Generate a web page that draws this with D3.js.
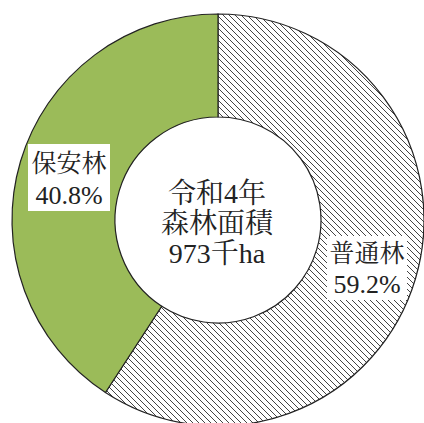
<!DOCTYPE html>
<html><head><meta charset="utf-8">
<script src="https://cdn.jsdelivr.net/npm/d3@7"></script>
<style>
body{margin:0;background:#fff}
svg{display:block}
svg text{font-family:"Liberation Serif","Noto Serif CJK JP","Times New Roman",serif !important;}
</style>
</head><body>
<script>
const categories = ["普通林", "保安林"];
const values = [59.2, 40.8];
const labelPct = ["59.2%", "40.8%"];
const centerLines = ["令和4年", "森林面積", "973千ha"];

const W = 424, H = 423, cx = 218, cy = 220, rOuter = 206, rInner = 103;
const font = "Liberation Serif, Noto Serif CJK JP, Times New Roman, serif";

const svg = d3.select("body").append("svg").attr("width", W).attr("height", H);
const defs = svg.append("defs");
const pat = defs.append("pattern").attr("id","hatch").attr("patternUnits","userSpaceOnUse")
  .attr("width",6).attr("height",6);
pat.append("rect").attr("width",6).attr("height",6).attr("fill","#fff");
pat.append("path").attr("d","M-1,-1L7,7M-4,2L1,7M5,-1L7,1").attr("stroke","#444").attr("stroke-width",1);

const fills = ["url(#hatch)", "#9BBB59"];
const pie = d3.pie().sort(null).value(d => d)(values);
const arc = d3.arc().innerRadius(rInner).outerRadius(rOuter);
const g = svg.append("g").attr("transform", `translate(${cx},${cy})`);
g.selectAll("path.slice").data(pie).join("path").attr("class","slice")
  .attr("d", arc).attr("fill", (d,i) => fills[i]).attr("stroke","#222").attr("stroke-width",1.2);

const labelBoxes = [
  {x:327, y:236, w:80, h:64, tx:367, ty1:262, ty2:293},
  {x:28, y:144, w:82, h:67, tx:69, ty1:172, ty2:204}
];
categories.forEach((c,i) => {
  const b = labelBoxes[i];
  svg.append("rect").attr("x",b.x).attr("y",b.y).attr("width",b.w).attr("height",b.h).attr("fill","#fff");
  svg.append("text").attr("x",b.tx).attr("y",b.ty1).attr("text-anchor","middle")
    .attr("font-family",font).attr("font-size",25).attr("fill","#222").text(c);
  svg.append("text").attr("x",b.tx).attr("y",b.ty2).attr("text-anchor","middle")
    .attr("font-family",font).attr("font-size",26).attr("fill","#222").text(labelPct[i]);
});

centerLines.forEach((t,i) => {
  svg.append("text").attr("x",217).attr("y",203 + i*30).attr("text-anchor","middle")
    .attr("font-family",font).attr("font-size",28).attr("fill","#222").text(t);
});
</script>
</body></html>
